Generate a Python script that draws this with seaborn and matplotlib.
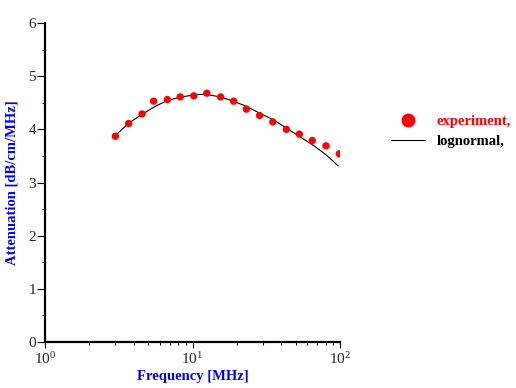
import numpy as np
import pandas as pd
import matplotlib
matplotlib.use("Agg")
import matplotlib.pyplot as plt
import seaborn as sns
from matplotlib.lines import Line2D
from matplotlib.ticker import MultipleLocator, LogLocator, FixedLocator

# experiment data
exp_freq = [3.0, 3.69, 4.55, 5.45, 6.75, 8.26, 10.2, 12.5, 15.5, 19.0,
            23.2, 28.5, 35.0, 43.3, 53.0, 64.9, 80.4, 98.9]
exp_att = [3.87, 4.11, 4.29, 4.53, 4.56, 4.61, 4.63, 4.68, 4.61, 4.53,
           4.38, 4.26, 4.14, 4.00, 3.91, 3.79, 3.69, 3.54]

# lognormal fit curve
fit_freq = [3.02, 3.67, 4.53, 5.57, 6.85, 8.45, 10.4, 12.2, 15.4, 18.9,
            23.3, 28.7, 35.3, 43.5, 53.6, 65.9, 81.3, 97.3]
fit_att = [3.89, 4.11, 4.28, 4.43, 4.55, 4.61, 4.65, 4.66, 4.61, 4.53,
           4.43, 4.30, 4.18, 4.02, 3.86, 3.70, 3.51, 3.31]

y_ticks = [0, 1, 2, 3, 4, 5, 6]
x_tick_labels = ["10$^{0}$", "10$^{1}$", "10$^{2}$"]

sns.set_style("white")
plt.rcParams['font.family'] = ['Liberation Serif', 'DejaVu Serif']
plt.rcParams['mathtext.fontset'] = 'custom'
plt.rcParams['mathtext.rm'] = 'Liberation Serif'
plt.rcParams['mathtext.default'] = 'regular'

fig = plt.figure(figsize=(5.16, 3.88), dpi=100)
ax = fig.add_axes([45/516, 46/388, 295/516, 319/388])

exp_df = pd.DataFrame({"f": exp_freq, "a": exp_att})
fit_df = pd.DataFrame({"f": fit_freq, "a": fit_att})

sns.lineplot(data=fit_df, x="f", y="a", ax=ax, color="black", linewidth=0.8)
sns.scatterplot(data=exp_df, x="f", y="a", ax=ax, color="#ff0000", s=28,
                edgecolor="none", zorder=3)

ax.set_xscale("log")
ax.set_xlim(1, 100)
ax.set_ylim(0, 6)
ax.set_yticks(y_ticks)
ax.yaxis.set_minor_locator(MultipleLocator(0.5))
ax.xaxis.set_major_locator(FixedLocator([1, 10, 100]))
ax.set_xticklabels(x_tick_labels)
ax.xaxis.set_minor_locator(LogLocator(base=10, subs=np.arange(2, 10)))
ax.xaxis.set_minor_formatter(matplotlib.ticker.NullFormatter())

for s in ["top", "right"]:
    ax.spines[s].set_visible(False)
for s in ["left", "bottom"]:
    ax.spines[s].set_linewidth(1.6)
    ax.spines[s].set_color("black")

ax.tick_params(axis="both", which="major", direction="out", length=5.5,
               width=0.8, color="black", labelsize=11, pad=1,
               bottom=True, left=True)
ax.tick_params(axis="both", which="minor", direction="out", length=2.5,
               width=0.8, color="black", bottom=True, left=True)
ax.tick_params(axis="x", which="major", length=4.5, pad=2)

ax.set_xlabel("Frequency [MHz]", color="#0000ff", fontweight="bold",
              fontsize=10.5, labelpad=2)
ax.set_ylabel("Attenuation [dB/cm/MHz]", color="#0000ff", fontweight="bold",
              fontsize=10.5, labelpad=7)

handles = [
    Line2D([], [], marker="o", color="#ff0000", linestyle="none", markersize=9),
    Line2D([], [], color="black", linewidth=0.8),
]
leg = ax.legend(handles, ["experiment,", "lognormal,"], loc="center left",
                bbox_to_anchor=(391/516, 1 - 131.5/388),
                bbox_transform=fig.transFigure, frameon=False, borderpad=0,
                borderaxespad=0, handlelength=2.3, handletextpad=0.85,
                labelspacing=0.45, prop={"weight": "bold", "size": 10.5})
leg.get_texts()[0].set_color("#ff0000")
leg.get_texts()[1].set_color("black")

fig.savefig("out.png", dpi=100)
